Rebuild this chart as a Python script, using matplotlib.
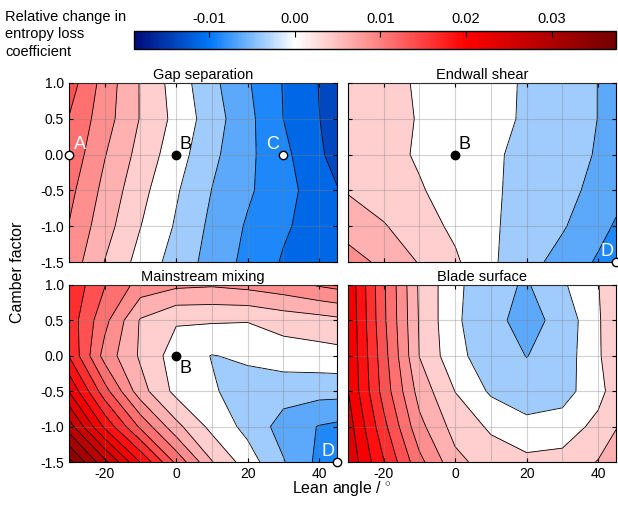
import numpy as np
import matplotlib.pyplot as plt
from matplotlib.colors import LinearSegmentedColormap, Normalize
from matplotlib.cm import ScalarMappable

plt.rcParams['font.family'] = ['Liberation Sans', 'DejaVu Sans']
plt.rcParams['mathtext.fontset'] = 'custom'
plt.rcParams['mathtext.rm'] = 'Liberation Sans'
plt.rcParams['axes.unicode_minus'] = False

# grid of the design study
lean = [-30, -20, -10, 0, 10, 20, 30, 40, 45]
camber = [-1.5, -1.0, -0.5, 0.0, 0.5, 1.0]

# relative change in entropy loss coefficient, rows = camber, cols = lean
gap_separation = [
    [0.0078, 0.00368, 0.00033, -0.00228, -0.00468, -0.00698, -0.009, -0.01, -0.01075],
    [0.00865, 0.00475, 0.0013, -0.00153, -0.00433, -0.00653, -0.0084, -0.00988, -0.01063],
    [0.0095, 0.00553, 0.00203, -0.00097, -0.0038, -0.00588, -0.00783, -0.01, -0.01113],
    [0.0105, 0.00638, 0.00288, -0.00015, -0.00315, -0.00568, -0.00808, -0.01093, -0.012],
    [0.01113, 0.00733, 0.0036, 0.00053, -0.00258, -0.00555, -0.00877, -0.0112, -0.01238],
    [0.0125, 0.0077, 0.00358, 0.00015, -0.0031, -0.00598, -0.00888, -0.01133, -0.0125],
]
endwall_shear = [
    [0.00725, 0.0057, 0.00358, 0.00163, -0.00085, -0.00285, -0.0047, -0.00655, -0.00745],
    [0.00525, 0.00393, 0.00233, 0.00075, -0.0009, -0.00225, -0.0035, -0.0055, -0.0065],
    [0.00355, 0.0025, 0.00145, 0.0003, -0.0009, -0.00198, -0.00298, -0.00445, -0.0055],
    [0.003, 0.002, 0.00098, 0.00008, -0.00087, -0.00188, -0.00285, -0.00393, -0.0045],
    [0.00275, 0.00195, 0.00113, 0.00028, -0.0006, -0.00153, -0.00263, -0.00378, -0.00433],
    [0.00275, 0.00188, 0.00103, 0.00023, -0.0006, -0.00148, -0.0026, -0.00378, -0.00435],
]
mainstream_mixing = [
    [0.0345, 0.027, 0.01863, 0.01065, 0.00388, -0.00005, -0.00358, -0.00688, -0.00775],
    [0.0275, 0.01825, 0.01075, 0.0045, 0.0005, -0.002, -0.00475, -0.00638, -0.00675],
    [0.02115, 0.01225, 0.00475, 0.0005, -0.001, -0.00225, -0.00275, -0.00288, -0.00288],
    [0.01615, 0.00775, 0.00338, 0.0, -0.00133, -0.00087, 0.0, 0.00025, 0.00038],
    [0.01525, 0.0095, 0.0035, 0.0015, 0.0015, 0.00138, 0.00225, 0.00275, 0.00313],
    [0.01575, 0.01138, 0.00775, 0.00675, 0.0065, 0.007, 0.00775, 0.009, 0.0095],
]
blade_surface = [
    [0.02325, 0.01638, 0.0095, 0.0045, 0.0025, 0.00188, 0.00213, 0.00388, 0.005],
    [0.0225, 0.0145, 0.007, 0.00275, 0.00088, -0.0005, -0.00012, 0.002, 0.00363],
    [0.02135, 0.01275, 0.00525, 0.0012, -0.00163, -0.00275, -0.00225, 0.00038, 0.0025],
    [0.02115, 0.01225, 0.00368, -0.0005, -0.00263, -0.0038, -0.00275, 0.001, 0.0025],
    [0.021, 0.01175, 0.0035, -0.00082, -0.00313, -0.0045, -0.00305, 0.001, 0.00275],
    [0.02075, 0.01163, 0.00333, -0.00067, -0.003, -0.004, -0.00163, 0.00113, 0.0035],
]

titles = ['Gap separation', 'Endwall shear', 'Mainstream mixing', 'Blade surface']
fields = [gap_separation, endwall_shear, mainstream_mixing, blade_surface]

# colour scale: navy - blue - white - red - dark red
cb_min, cb_max = -0.01875, 0.0375
anchors = [(-0.01875, '#000a78'), (-0.01, '#0078fa'), (0.0, '#ffffff'),
           (0.02, '#ff0000'), (0.0375, '#730000')]
cmap = LinearSegmentedColormap.from_list(
    'rel', [((v - cb_min) / (cb_max - cb_min), c) for v, c in anchors])
norm = Normalize(cb_min, cb_max)

# contour bands centred on multiples of 0.0025; each band takes the colour
# of its edge that lies farther from zero, the band round zero is white
step = 0.0025
k = np.arange(-7, 16)
levels = np.round((np.append(k, k[-1] + 1) - 0.5) * step, 6)
fill_colors = [cmap(norm((kk + 0.5 * np.sign(kk)) * step)) for kk in k]

fig = plt.figure(figsize=(6.18, 5.08), dpi=100)
W, H = 618, 508
boxes = [(69, 83, 268, 179), (348, 83, 268, 179),
         (69, 285, 268, 177), (348, 285, 268, 177)]

X, Y = np.meshgrid(lean, camber)
axes = []
for i, (box, field, title) in enumerate(zip(boxes, fields, titles)):
    l, t, w, h = box
    ax = fig.add_axes([l / W, 1 - (t + h) / H, w / W, h / H])
    Z = np.array(field)
    ax.contourf(X, Y, Z, levels=levels, colors=fill_colors)
    ax.contour(X, Y, Z, levels=levels, colors='k', linewidths=0.6,
               linestyles='solid')
    ax.set_xlim(-30, 45)
    ax.set_ylim(-1.5, 1.0)
    ax.set_xticks([-20, 0, 20, 40])
    ax.set_xticks([-10, 10, 30], minor=True)
    ax.set_yticks([-1.5, -1.0, -0.5, 0.0, 0.5, 1.0])
    ax.set_yticklabels(['-1.5', '-1.0', '-0.5', '0.0', '0.5', '1.0'])
    ax.grid(True, which='both', color='gray', alpha=0.35, lw=0.8)
    ax.set_axisbelow(False)
    ax.tick_params(which='both', direction='in', top=True, right=True,
                   length=3, labelsize=10)
    ax.tick_params(which='minor', length=0)
    if i < 2:
        ax.tick_params(labelbottom=False)
    if i % 2 == 1:
        ax.tick_params(labelleft=False)
    ax.set_title(title, fontsize=10.5, pad=3)
    axes.append(ax)

# design points
def point(ax, x, y, fill):
    ax.plot(x, y, 'o', ms=6, mfc=fill, mec='k', mew=1, clip_on=False, zorder=5)

point(axes[0], -30, 0, 'white')
axes[0].text(-28.5, 0.08, 'A', color='white', fontsize=13, zorder=6)
point(axes[0], 0, 0, 'black')
axes[0].text(0.8, 0.08, 'B', color='black', fontsize=13, zorder=6)
point(axes[0], 30, 0, 'white')
axes[0].text(25.3, 0.08, 'C', color='white', fontsize=13, zorder=6)

point(axes[1], 0, 0, 'black')
axes[1].text(0.8, 0.08, 'B', color='black', fontsize=13, zorder=6)
point(axes[1], 45, -1.5, 'white')
axes[1].text(40.6, -1.42, 'D', color='white', fontsize=13, zorder=6)

point(axes[2], 0, 0, 'black')
axes[2].text(0.8, -0.06, 'B', color='black', fontsize=13, va='top', zorder=6)
point(axes[2], 45, -1.5, 'white')
axes[2].text(40.6, -1.42, 'D', color='white', fontsize=13, zorder=6)

# colour bar
cax = fig.add_axes([134 / W, 1 - 49 / H, 482 / W, 18 / H])
cb = fig.colorbar(ScalarMappable(norm=norm, cmap=cmap), cax=cax,
                  orientation='horizontal', ticks=[-0.01, 0.0, 0.01, 0.02, 0.03])
cax.xaxis.set_ticks_position('top')
cax.set_xticklabels(['-0.01', '0.00', '0.01', '0.02', '0.03'])
cax.tick_params(direction='in', length=4, labelsize=10.5)
cb.outline.set_linewidth(1)

fig.text(5 / W, 1 - 10 / H, 'Relative change in\nentropy loss\ncoefficient',
         va='top', ha='left', fontsize=10.5, linespacing=1.3)
fig.text(18 / W, 1 - 272 / H, 'Camber factor', rotation=90,
         va='center', ha='center', fontsize=11.5)
fig.text(342 / W, 1 - 489 / H, 'Lean angle / $^{\\circ}$',
         va='center', ha='center', fontsize=11.5)

fig.savefig('out.png', dpi=100)
